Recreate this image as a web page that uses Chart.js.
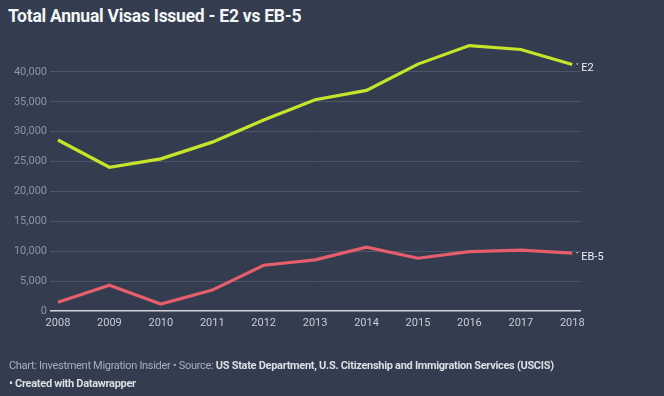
<!DOCTYPE html>
<html>
<head>
<meta charset="utf-8">
<script src="https://cdn.jsdelivr.net/npm/chart.js@4"></script>
<style>
  html, body { margin:0; padding:0; }
  body { width:664px; height:396px; background:#333d4f; position:relative; overflow:hidden; font-family:Roboto, "Noto Sans", sans-serif; }
  #title { position:absolute; left:8px; top:6px; color:#f4f5f7; font-weight:bold; font-size:17.5px; letter-spacing:-0.25px; }
  #chartBox { position:absolute; left:0; top:0; width:664px; height:396px; }
  #notes { position:absolute; left:9px; top:357px; font-size:11px; line-height:18px; color:#a7aebb; letter-spacing:-0.3px; }
  #notes b { color:#dcdfe4; }
</style>
</head>
<body>
<div id="title">Total Annual Visas Issued - E2 vs EB-5</div>
<div id="chartBox"><canvas id="visaChart" width="664" height="396"></canvas></div>
<div id="notes">Chart: Investment Migration Insider • Source: <b>US State Department, U.S. Citizenship and Immigration Services (USCIS)</b><br><b>• Created with Datawrapper</b></div>
<script>
// 資料
const years = [2008, 2009, 2010, 2011, 2012, 2013, 2014, 2015, 2016, 2017, 2018];
const e2Visas = [28600, 24050, 25450, 28250, 31950, 35350, 36900, 41300, 44400, 43750, 41250];
const eb5Visas = [1450, 4300, 1170, 3500, 7650, 8550, 10680, 8830, 9940, 10170, 9670];
const yTicks = [0, 5000, 10000, 15000, 20000, 25000, 30000, 35000, 40000];

// 線尾標籤
const endLabels = {
  id: 'endLabels',
  afterDatasetsDraw(chart) {
    const ctx = chart.ctx;
    chart.data.datasets.forEach((ds, i) => {
      const pts = chart.getDatasetMeta(i).data;
      const p = pts[pts.length - 1];
      ctx.save();
      ctx.fillStyle = '#c9ccd2';
      ctx.fillRect(p.x + 4, p.y - 1, 2, 1);
      ctx.fillStyle = '#eef0f3';
      ctx.font = '11px Roboto';
      ctx.textBaseline = 'middle';
      ctx.fillText(ds.label, p.x + 9, p.y + 4);
      ctx.restore();
    });
  }
};

new Chart(document.getElementById('visaChart').getContext('2d'), {
  type: 'line',
  data: {
    datasets: [
      { label: 'E2', data: years.map((y, i) => ({ x: y, y: e2Visas[i] })),
        borderColor: '#c6e42a', borderWidth: 3.2, pointRadius: 0, tension: 0 },
      { label: 'EB-5', data: years.map((y, i) => ({ x: y, y: eb5Visas[i] })),
        borderColor: '#e65d6b', borderWidth: 3.2, pointRadius: 0, tension: 0 }
    ]
  },
  options: {
    responsive: false,
    animation: false,
    layout: { padding: { left: 0, top: 42, right: 83, bottom: 63 } },
    plugins: { legend: { display: false }, tooltip: { enabled: false } },
    scales: {
      x: {
        type: 'linear',
        min: 2007.845, max: 2018.17,
        afterBuildTicks: s => { s.ticks = years.map(v => ({ value: v })); },
        afterFit: s => { s.height = 22; },
        grid: { display: false, drawTicks: false },
        border: { display: false },
        ticks: { color: '#c9ccd2', font: { family: 'Roboto', size: 11 }, padding: 6,
          maxRotation: 0, callback: v => String(v) }
      },
      y: {
        min: 0, max: 45000,
        afterBuildTicks: s => { s.ticks = yTicks.map(v => ({ value: v })); },
        afterFit: s => { s.width = 50; },
        grid: {
          drawTicks: false,
          color: c => c.tick && c.tick.value === 0 ? '#d3d6dc' : '#4d5669',
          lineWidth: c => c.tick && c.tick.value === 0 ? 1.5 : 1
        },
        border: { display: false },
        ticks: { color: '#8c94a3', font: { family: 'Roboto', size: 11 }, padding: 3,
          callback: v => v.toLocaleString('en-US') }
      }
    }
  },
  plugins: [endLabels]
});
</script>
</body>
</html>
